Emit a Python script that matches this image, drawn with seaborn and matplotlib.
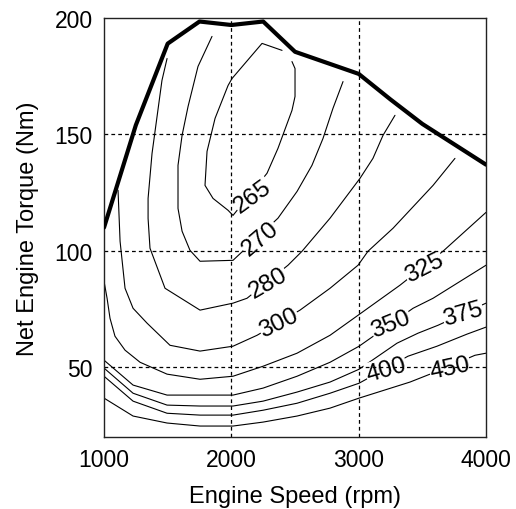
import matplotlib
matplotlib.use("Agg")
import matplotlib.pyplot as plt
import pandas as pd
import seaborn as sns

# Full-load (maximum) torque curve
max_rpm = [1000, 1250, 1500, 1750, 2000, 2250, 2500, 3000, 3250, 3500, 4000]
max_torque = [110, 154, 189, 198.5, 197, 198.5, 185.5, 176, 165, 154.5, 137]

# BSFC iso-lines (g/kWh): engine speed / torque along each line
rpm_265 = [2476, 2500, 2500, 2476, 2366, 2280, 2013, 1974, 1856, 1793, 1809, 1872, 1974, 2005, 2241, 2398]
nm_265 = [181.3, 178.3, 166.3, 160.3, 144.0, 133.3, 115.2, 117.4, 122.5, 128.1, 142.7, 156.9, 171.0, 174.0, 189.1, 186.1]

rpm_270 = [2877, 2798, 2720, 2633, 2516, 2366, 2013, 1754, 1675, 1613, 1581, 1581, 1613, 1660, 1738, 1848]
nm_270 = [172.7, 161.2, 148.3, 136.7, 125.5, 114.0, 95.9, 95.5, 100.2, 108.4, 118.2, 136.7, 149.6, 162.0, 179.2, 192.1]

rpm_280 = [3285, 3191, 3112, 3010, 2775, 2555, 2445, 2123, 2013, 1754, 1479, 1361, 1346, 1346, 1377, 1455, 1495]
nm_280 = [158.2, 149.6, 139.7, 131.1, 114.0, 99.8, 93.8, 79.6, 77.5, 74.5, 83.9, 101.1, 113.9, 122.5, 141.8, 173.2, 182.6]

rpm_300 = [1110, 1126, 1165, 1228, 1338, 1518, 1754, 2013, 2202, 2539, 2775, 2995, 3073, 3270, 3584, 3756]
nm_300 = [126.0, 104.1, 83.9, 75.3, 68.9, 59.4, 56.9, 59.0, 63.7, 74.5, 83.9, 93.8, 99.8, 109.7, 128.1, 139.7]

rpm_325 = [1000, 1024, 1047, 1086, 1165, 1283, 1495, 1754, 2013, 2249, 2516, 2775, 2995, 3324, 3662, 4000]
nm_325 = [86.9, 79.6, 71.0, 63.3, 57.3, 52.1, 47.0, 44.8, 46.1, 50.4, 56.0, 63.7, 72.3, 85.2, 99.8, 116.5]

rpm_350 = [1000, 1228, 1495, 1754, 2013, 2249, 2516, 2775, 3003, 3427, 3584, 4000]
nm_350 = [53.0, 42.3, 38.0, 38.0, 38.0, 41.0, 46.1, 52.1, 59.0, 75.3, 79.6, 93.8]

rpm_375 = [1000, 1228, 1495, 1754, 2013, 2249, 2516, 2775, 3003, 3301, 3466, 3623, 4000]
nm_375 = [49.6, 38.8, 33.7, 33.3, 33.3, 35.4, 39.3, 43.6, 49.1, 60.3, 64.6, 68.0, 77.5]

rpm_400 = [1000, 1228, 1495, 1754, 2013, 2249, 2516, 2775, 3003, 3387, 3615, 3851, 4000]
nm_400 = [46.1, 35.4, 30.2, 29.4, 29.4, 31.5, 34.5, 38.8, 43.1, 54.7, 59.0, 64.2, 67.2]

rpm_450 = [1000, 1228, 1495, 1754, 2013, 2249, 2516, 2775, 3003, 3403, 3639, 3913, 4000]
nm_450 = [36.7, 29.0, 26.0, 24.7, 24.7, 26.4, 29.0, 32.4, 36.7, 43.6, 48.7, 55.1, 56.0]

levels = [265, 270, 280, 300, 325, 350, 375, 400, 450]
line_rpm = [rpm_265, rpm_270, rpm_280, rpm_300, rpm_325, rpm_350, rpm_375, rpm_400, rpm_450]
line_nm = [nm_265, nm_270, nm_280, nm_300, nm_325, nm_350, nm_375, nm_400, nm_450]

# inline label placement: (rpm, torque, rotation)
label_pos = {
    265: (2170, 123.4, 36),
    270: (2225, 105.4, 40),
    280: (2288, 86.5, 30),
    300: (2374, 69.0, 26),
    325: (3513, 92.9, 27),
    350: (3254, 68.5, 22),
    375: (3819, 73.0, 16),
    400: (3215, 49.1, 16),
    450: (3717, 49.5, 12),
}

rows = []
for lev, xs, ys in zip(levels, line_rpm, line_nm):
    for i, (x, y) in enumerate(zip(xs, ys)):
        rows.append({"level": lev, "order": i, "rpm": x, "torque": y})
iso = pd.DataFrame(rows)
full_load = pd.DataFrame({"rpm": max_rpm, "torque": max_torque})

sns.set_style("white")
plt.rcParams["font.family"] = ["Liberation Sans", "DejaVu Sans"]
plt.rcParams["text.color"] = "black"
plt.rcParams["axes.labelcolor"] = "black"
plt.rcParams["xtick.color"] = "black"
plt.rcParams["ytick.color"] = "black"

fig = plt.figure(figsize=(5.16, 5.10), dpi=100)
ax = fig.add_axes([0.2016, 0.1412, 0.7403, 0.8215])

sns.lineplot(data=iso, x="rpm", y="torque", units="level", estimator=None,
             sort=False, color="black", lw=0.8, ax=ax, zorder=2)
sns.lineplot(data=full_load, x="rpm", y="torque", sort=False, color="black",
             lw=3.0, ax=ax, zorder=4)

for lev in levels:
    x, y, rot = label_pos[lev]
    ax.text(x, y, str(lev), rotation=rot, ha="center", va="center",
            fontsize=17.5, color="black", zorder=2.2, rotation_mode="anchor",
            bbox=dict(fc="white", ec="none", pad=0.3))

ax.set_xlim(1000, 4000)
ax.set_ylim(20, 200)
ax.set_xticks([1000, 2000, 3000, 4000])
ax.set_yticks([50, 100, 150, 200])

# dashed grid drawn above the labels
for gx in [2000, 3000]:
    ax.axvline(gx, color="black", lw=0.9, dashes=(3, 2.5), zorder=2.5)
for gy in [50, 100, 150]:
    ax.axhline(gy, color="black", lw=0.9, dashes=(3, 2.5), zorder=2.5)

for s in ax.spines.values():
    s.set_visible(True)
    s.set_color("#222222")
    s.set_linewidth(1.0)

ax.tick_params(direction="in", length=4, width=0.8, color="#222222",
               labelcolor="black", labelsize=16.5, pad=8)
ax.set_xlabel("Engine Speed (rpm)", fontsize=17, labelpad=10, color="black")
ax.set_ylabel("Net Engine Torque (Nm)", fontsize=17, color="black")
ax.yaxis.set_label_coords(-0.17, 0.5)

fig.savefig("out.png", dpi=100)
